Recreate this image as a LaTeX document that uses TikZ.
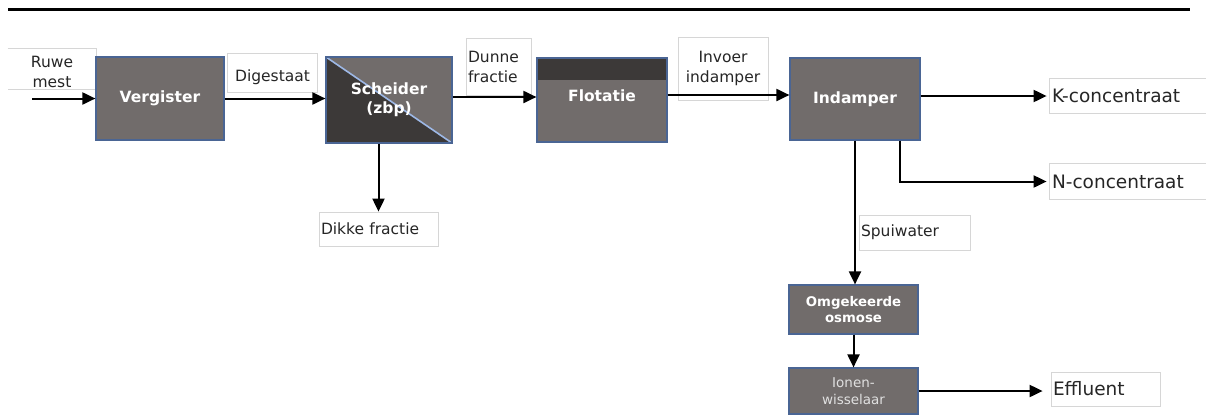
\documentclass[tikz,border=0pt]{standalone}
\usepackage{fontspec}
\setmainfont{DejaVu Sans}
\usetikzlibrary{arrows.meta}
\definecolor{boxgray}{HTML}{716C6B}
\definecolor{boxdark}{HTML}{3C3938}
\definecolor{boxedge}{HTML}{4A6594}
\definecolor{diagline}{HTML}{9DB8E6}
\definecolor{lbledge}{HTML}{D6D6D6}
\definecolor{lbltext}{HTML}{262626}
\begin{document}
\begin{tikzpicture}[x=1pt,y=-1pt,
  proc/.style={draw=boxedge, line width=1.2pt, fill=boxgray, text=white,
    font=\bfseries\fontsize{15.5}{19}\selectfont, align=center, inner sep=0pt},
  lbl/.style={draw=lbledge, line width=0.8pt, fill=white, text=lbltext,
    inner xsep=2pt, inner ysep=0pt, font=\fontsize{15.5}{20}\selectfont},
  lbledgeline/.style={draw=lbledge, line width=0.8pt},
  arr/.style={line width=2pt, -{Triangle[length=13pt,width=12pt]}},
]
\useasboundingbox (0,0) rectangle (1206,416);
\coordinate (ruleL) at (8,9);
\coordinate (ruleR) at (1190,9);
\draw[line width=3pt] (ruleL) -- (ruleR);

% label boxes
\node[lbl, draw=none, minimum width=88pt, minimum height=40pt, align=center] (rm) at (52,72) {Ruwe\\mest};
\draw[lbledgeline] ([yshift=3pt]rm.north west) -- ([yshift=3pt]rm.north east) -- ([yshift=3pt]rm.south east) -- ([yshift=3pt]rm.south west);
\node[lbl, draw=none, minimum width=89pt, minimum height=38pt, align=center] (dig) at (272.5,77) {Digestaat};
\draw[lbledgeline] ([yshift=4pt]dig.north west) rectangle ([yshift=4pt]dig.south east);
\node[lbl, minimum width=65pt, minimum height=57pt, text width=61pt, align=left] (dun) at (498.5,66.5) {Dunne\\fractie};
\node[lbl, minimum width=90pt, minimum height=63pt, align=center] (inv) at (723,68.5) {Invoer\\indamper};
\node[lbl, draw=none, minimum width=156pt, minimum height=34pt, text width=152pt, align=left, font=\fontsize{18.5}{22}\selectfont] (K) at (1128,96) {K-concentraat};
\draw[lbledgeline] (K.north east) -- (K.north west) -- (K.south west) -- (K.south east);
\node[lbl, draw=none, minimum width=156pt, minimum height=35pt, text width=152pt, align=left, font=\fontsize{18.5}{22}\selectfont] (N) at (1128,181.5) {N-concentraat};
\draw[lbledgeline] (N.north east) -- (N.north west) -- (N.south west) -- (N.south east);
\node[lbl, minimum width=119pt, minimum height=34pt, text width=115pt, align=left] (dik) at (378.5,229) {Dikke fractie};
\node[lbl, minimum width=111pt, minimum height=35pt, text width=107pt, align=left] (spu) at (914.5,232.5) {Spuiwater};
\node[lbl, minimum width=109pt, minimum height=34pt, text width=105pt, align=left, font=\fontsize{18.5}{22}\selectfont] (eff) at (1105.5,389) {Effluent};

% process boxes
\node[proc, minimum width=128pt, minimum height=83pt] (verg) at (160,98.5) {Vergister};
\node[proc, fill=boxdark, minimum width=126pt, minimum height=86pt,
  path picture={
    \fill[boxgray] (path picture bounding box.north west) -- (path picture bounding box.north east) -- (path picture bounding box.south east) -- cycle;
    \draw[diagline, line width=1.6pt] (path picture bounding box.north west) -- (path picture bounding box.south east);
  }] (sch) at (389,100) {Scheider\\(zbp)};
\node[proc, minimum width=130pt, minimum height=84pt, text depth=9pt,
  path picture={
    \fill[boxdark] (path picture bounding box.north west) rectangle ([yshift=-22pt]path picture bounding box.north east);
  }] (flot) at (602,100) {Flotatie};
\node[proc, minimum width=130pt, minimum height=82pt] (ind) at (855,99) {Indamper};
\node[proc, minimum width=129pt, minimum height=49pt, font=\bfseries\fontsize{13.3}{16.5}\selectfont] (omg) at (853.5,309.5) {Omgekeerde\\osmose};
\node[proc, minimum width=129pt, minimum height=46pt, font=\fontsize{13.5}{17}\selectfont, text=white!88!black] (ion) at (853.5,391) {Ionen-\\wisselaar};

% connectors
\coordinate (rmstart) at (32,98.5);
\draw[arr] (rmstart) -- (verg.west);
\draw[arr] (verg.east) -- (verg.east -| sch.west);
\draw[arr] ([yshift=3pt]sch.east) -- ([yshift=3pt]flot.west);
\draw[arr] ([yshift=5pt]flot.east) -- ([yshift=5pt]flot.east -| ind.west);
\draw[arr, shorten >=3pt] ([yshift=3pt]ind.east) -- ([yshift=3pt]ind.east -| K.west);
\draw[arr, shorten >=3pt] ([xshift=45pt]ind.south) |- (N.west);
\draw[arr] (ind.south) -- (ind.south |- omg.north);
\draw[arr] (omg.south) -- (ion.north);
\draw[arr, shorten >=8pt] (ion.east) -- (ion.east -| eff.west);
\draw[arr] (dik.north |- sch.south) -- (dik.north);
\end{tikzpicture}
\end{document}
